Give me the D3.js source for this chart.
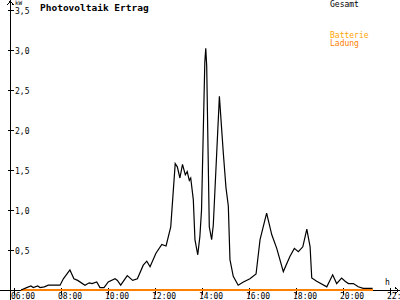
<!DOCTYPE html>
<meta charset="utf-8">
<script src="https://cdn.jsdelivr.net/npm/d3@7"></script>
<style>
body { margin: 0; background: #fff; }
svg { display: block; }
text { font-family: "DejaVu Sans Mono", monospace; font-size: 8px; fill: #000; }
.title { font-size: 9.5px; font-weight: bold; }
.axis path, .axis line, .curve { shape-rendering: crispEdges; }
</style>
<body>
<script>
// measured values (hours of day, kW)
var hours = [6.30, 6.54, 6.72, 6.82, 7.01, 7.11, 7.29, 7.46, 7.96, 8.10, 8.38, 8.55, 8.71,
  9.02, 9.20, 9.32, 9.52, 9.66, 9.83, 10.01, 10.30, 10.40, 10.54, 10.82, 11.05, 11.25,
  11.50, 11.65, 11.79, 12.04, 12.29, 12.47, 12.67, 12.86, 12.95, 13.06, 13.17, 13.29,
  13.37, 13.46, 13.52, 13.63, 13.70, 13.82, 13.91, 13.98, 14.12, 14.16, 14.20, 14.31,
  14.41, 14.48, 14.74, 14.91, 15.02, 15.12, 15.19, 15.33, 15.54, 15.76, 16.04, 16.30,
  16.47, 16.75, 16.97, 17.18, 17.46, 17.74, 17.93, 18.10, 18.29, 18.46, 18.60, 18.67,
  18.88, 19.31, 19.56, 19.73, 19.94, 20.09, 20.23, 20.44, 20.65, 20.86, 21.26];
var gesamt = [0.00, 0.03, 0.05, 0.03, 0.05, 0.03, 0.04, 0.06, 0.06, 0.14, 0.25, 0.14, 0.12,
  0.06, 0.09, 0.08, 0.10, 0.03, 0.03, 0.10, 0.14, 0.12, 0.06, 0.18, 0.12, 0.14,
  0.31, 0.36, 0.29, 0.46, 0.57, 0.55, 0.79, 1.58, 1.54, 1.40, 1.57, 1.44,
  1.48, 1.37, 1.40, 1.13, 0.63, 0.44, 0.67, 1.00, 2.85, 3.02, 2.80, 0.79,
  0.63, 0.81, 2.42, 1.70, 1.28, 1.05, 0.38, 0.17, 0.06, 0.10, 0.14, 0.20,
  0.63, 0.96, 0.69, 0.52, 0.23, 0.42, 0.52, 0.48, 0.54, 0.76, 0.54, 0.15,
  0.11, 0.04, 0.19, 0.08, 0.15, 0.11, 0.08, 0.08, 0.04, 0.02, 0.02];
// battery charge: zero over the whole day
var ladungHours = [6.30, 21.26];
var ladung = [0, 0];

var yTicks = [0.5, 1.0, 1.5, 2.0, 2.5, 3.0, 3.5];
var xTicks = [6, 8, 10, 12, 14, 16, 18, 20, 22];

var width = 400, height = 300;

var svg = d3.select("body").append("svg")
  .attr("width", width)
  .attr("height", height);

var x = d3.scaleLinear().domain([6, 22]).range([14, 390]);
var y = d3.scaleLinear().domain([0, 3.5]).range([290, 10]);

var comma = function(d) { return d3.format(".1f")(d).replace(".", ","); };

// y axis
var yAxis = svg.append("g")
  .attr("class", "axis")
  .attr("transform", "translate(10.5,0)")
  .call(d3.axisRight(y).tickValues(yTicks).tickSize(3).tickFormat(comma));
yAxis.select(".domain").remove();
yAxis.selectAll(".tick line").attr("x1", -3).attr("stroke", "#000");
yAxis.selectAll(".tick text").attr("x", 4.5).attr("dy", "0.4em")
  .style("font-family", "DejaVu Sans Mono").style("font-size", "8px");
yAxis.append("line").attr("x1", 0).attr("x2", 0).attr("y1", 1).attr("y2", 300).attr("stroke", "#000");
yAxis.append("path").attr("d", "M-3,5L0,1L3,5").attr("fill", "none").attr("stroke", "#000");

svg.append("text").attr("x", 15).attr("y", 5).style("font-size", "6px").text("kW");

// x axis
var xAxis = svg.append("g")
  .attr("class", "axis")
  .attr("transform", "translate(0,290.5)")
  .call(d3.axisBottom(x).tickValues(xTicks).tickSize(4)
    .tickFormat(function(d) { return d3.format("02d")(d) + ":00"; }));
xAxis.select(".domain").remove();
xAxis.selectAll(".tick line").attr("y1", -3).attr("y2", 4).attr("stroke", "#000");
xAxis.selectAll(".tick text").attr("x", -3.5).attr("y", 8.5).attr("dy", 0)
  .attr("text-anchor", "start")
  .style("font-family", "DejaVu Sans Mono").style("font-size", "8px");
xAxis.append("line").attr("x1", 0).attr("x2", 399).attr("y1", 0).attr("y2", 0).attr("stroke", "#000");
xAxis.append("path").attr("d", "M395,-3L399,0L395,3").attr("fill", "none").attr("stroke", "#000");

svg.append("text").attr("x", 385).attr("y", 285).text("h");

// curves
var line = d3.line()
  .x(function(d) { return x(d[0]); })
  .y(function(d) { return y(d[1]); });

svg.append("path")
  .datum(d3.zip(ladungHours, ladung))
  .attr("class", "curve")
  .attr("fill", "none")
  .attr("stroke", "#ff8000")
  .attr("stroke-width", 2)
  .attr("d", line);

svg.append("path")
  .datum(d3.zip(hours, gesamt))
  .attr("fill", "none")
  .attr("stroke", "#000")
  .attr("stroke-width", 1.2)
  .attr("d", line);

// title and legend
svg.append("text").attr("class", "title").attr("x", 40).attr("y", 11).text("Photovoltaik Ertrag");
svg.append("text").attr("x", 330).attr("y", 7).text("Gesamt");
svg.append("text").attr("x", 330).attr("y", 38).style("fill", "#ffa500").text("Batterie");
svg.append("text").attr("x", 330).attr("y", 46).style("fill", "#ff8000").text("Ladung");
</script>
</body>
</html>
